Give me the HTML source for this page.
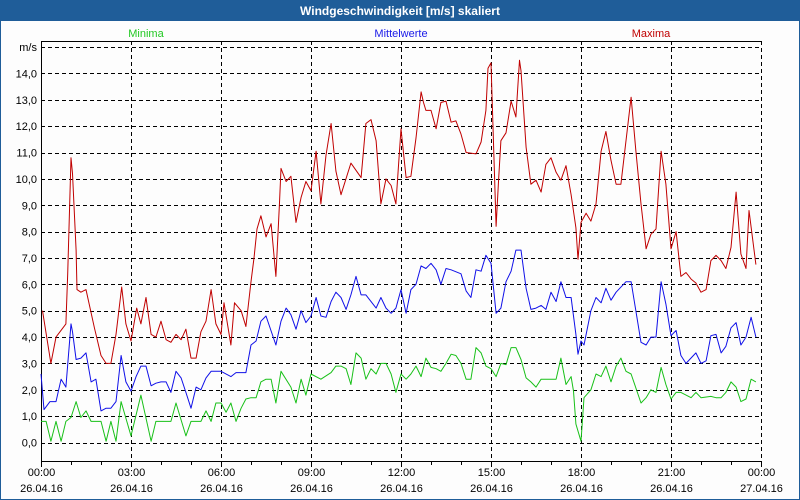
<!DOCTYPE html>
<html><head><meta charset="utf-8"><style>
html,body{margin:0;padding:0;background:#fff}
#frame{position:relative;width:798px;height:498px;border:1px solid #1f5d99;background:#fdfdfd;overflow:hidden}
#title{position:absolute;left:0;top:0;width:798px;height:20px;background:#1f5d99;color:#fff;font:bold 12px "Liberation Sans",sans-serif;text-align:center;line-height:20px}
svg{position:absolute;left:0;top:0}
text{font-family:"Liberation Sans",sans-serif;font-size:11px}
</style></head><body>
<div id="frame">
<div id="title">Windgeschwindigkeit [m/s] skaliert</div>
<svg id="chart" width="798" height="498"></svg>
</div>
<script>
const xTickLabels=["00:00","03:00","06:00","09:00","12:00","15:00","18:00","21:00","00:00"];
const xDateLabels=["26.04.16","26.04.16","26.04.16","26.04.16","26.04.16","26.04.16","26.04.16","26.04.16","27.04.16"];
const yTicks=[0,1,2,3,4,5,6,7,8,9,10,11,12,13,14];
const seriesNames=["Minima","Mittelwerte","Maxima"];
const maxHours=[0.05,0.33,0.5,0.83,0.89,1.0,1.05,1.17,1.2,1.33,1.5,1.78,2.0,2.17,2.33,2.5,2.69,2.83,3.0,3.19,3.33,3.5,3.67,3.83,4.0,4.17,4.33,4.5,4.67,4.83,5.0,5.17,5.33,5.5,5.67,5.83,6.0,6.1,6.2,6.33,6.45,6.67,6.83,7.0,7.1,7.2,7.33,7.5,7.67,7.83,7.95,8.0,8.17,8.33,8.5,8.67,8.83,9.0,9.17,9.33,9.5,9.67,9.83,10.0,10.33,10.67,10.83,11.0,11.17,11.33,11.5,11.67,11.83,12.0,12.1,12.17,12.33,12.5,12.67,12.75,12.83,13.0,13.17,13.33,13.5,13.67,13.83,14.0,14.17,14.5,14.67,14.83,14.9,15.0,15.17,15.25,15.33,15.5,15.67,15.83,15.95,16.0,16.17,16.33,16.5,16.67,16.83,17.0,17.17,17.33,17.5,17.67,17.83,17.9,18.0,18.17,18.33,18.5,18.67,18.83,19.0,19.17,19.33,19.5,19.67,19.83,20.0,20.17,20.33,20.5,20.67,20.83,21.0,21.17,21.33,21.5,21.67,21.83,22.0,22.17,22.33,22.5,22.67,22.83,23.0,23.17,23.33,23.5,23.6,23.83];
const maxValues=[5.0,3.0,4.0,4.5,6.4,10.8,10.2,7.3,5.8,5.7,5.8,4.35,3.3,3.0,3.0,4.1,5.9,4.5,3.85,5.1,4.5,5.5,4.1,4.0,4.6,3.9,3.8,4.1,3.9,4.3,3.2,3.2,4.2,4.6,5.8,4.5,4.1,5.3,4.6,3.7,5.3,5.0,4.4,6.1,7.0,8.1,8.6,7.8,8.3,6.3,9.1,10.4,9.9,10.1,8.35,9.3,9.9,9.55,11.05,9.05,10.9,12.1,10.3,9.4,10.6,10.05,12.1,12.25,11.45,9.05,10.0,9.75,9.05,11.9,10.8,10.05,10.1,11.55,13.3,12.9,12.6,12.6,11.9,12.9,12.95,12.15,12.2,11.7,11.0,10.95,11.4,12.6,14.2,14.4,8.2,9.9,11.45,11.75,12.95,12.35,14.5,14.1,11.2,9.8,9.95,9.5,10.55,10.8,10.25,9.95,10.5,9.4,8.15,6.95,8.35,8.7,8.4,9.05,11.05,11.8,10.7,9.8,9.8,11.45,13.1,11.05,9.05,7.35,7.9,8.1,11.05,9.8,7.35,8.0,6.3,6.45,6.2,6.05,5.7,5.8,6.9,7.1,6.9,6.6,7.4,9.5,7.15,6.6,8.8,6.75];
const meanHours=[0,0.1,0.3,0.5,0.67,0.83,0.89,1.0,1.05,1.17,1.33,1.5,1.67,1.83,2.0,2.17,2.33,2.5,2.67,2.83,3.0,3.17,3.33,3.5,3.67,3.83,4.0,4.17,4.33,4.5,4.67,4.83,5.0,5.17,5.33,5.5,5.67,6.0,6.33,6.5,6.83,7.0,7.17,7.33,7.5,7.83,8.0,8.17,8.33,8.5,8.67,8.83,9.0,9.17,9.33,9.5,9.67,9.83,10.0,10.17,10.33,10.5,10.67,10.83,11.17,11.33,11.5,11.67,11.83,12.0,12.17,12.33,12.5,12.67,12.83,13.0,13.17,13.33,13.5,13.67,14.0,14.17,14.33,14.5,14.67,14.83,15.0,15.17,15.33,15.5,15.67,15.83,16.0,16.17,16.33,16.5,16.67,16.83,17.0,17.17,17.33,17.5,17.67,17.83,17.9,18.0,18.1,18.33,18.5,18.67,18.83,19.0,19.17,19.5,19.67,20.0,20.17,20.33,20.5,20.67,20.83,21.0,21.17,21.33,21.5,21.83,22.0,22.17,22.33,22.5,22.67,22.83,23.0,23.17,23.33,23.5,23.67,23.83];
const meanValues=[2.6,1.25,1.55,1.55,2.4,2.1,2.95,4.5,4.2,3.15,3.2,3.4,2.3,2.4,1.2,1.3,1.3,1.55,3.3,2.3,1.95,2.5,2.9,2.9,2.15,2.25,2.3,2.3,1.9,2.7,2.45,1.9,1.3,2.1,2.0,2.45,2.7,2.7,2.5,2.65,2.65,3.7,3.85,4.6,4.8,3.7,4.6,5.1,4.85,4.3,5.0,4.55,4.8,5.5,4.8,4.75,5.35,5.7,5.5,5.05,5.6,6.3,5.6,5.6,5.1,5.5,5.1,4.9,5.1,5.8,4.9,5.8,6.0,6.7,6.6,6.8,6.55,6.0,6.6,6.55,6.4,5.75,5.5,6.55,6.5,7.1,6.8,4.9,5.1,6.1,6.5,7.3,7.3,5.85,5.05,5.1,5.2,5.05,5.7,5.35,6.1,5.5,5.5,4.1,3.35,3.85,3.7,5.0,5.5,5.3,5.85,5.4,5.7,6.1,6.1,3.8,3.7,4.0,4.0,6.1,5.25,4.05,4.25,3.3,3.0,3.4,3.0,3.1,4.05,4.1,3.4,3.65,4.35,4.55,3.7,4.0,4.75,4.0];
const minHours=[0,0.17,0.33,0.5,0.67,0.83,1.0,1.17,1.33,1.5,1.67,2.0,2.17,2.33,2.5,2.67,3.0,3.33,3.67,3.83,4.33,4.5,4.83,5.0,5.33,5.5,5.67,5.83,6.0,6.17,6.33,6.5,6.67,6.83,7.0,7.17,7.33,7.5,7.67,7.83,8.0,8.33,8.5,8.67,8.83,9.0,9.33,9.67,9.83,10.0,10.17,10.33,10.5,10.67,10.83,11.0,11.17,11.33,11.5,11.67,11.83,12.0,12.17,12.33,12.5,12.67,12.83,13.0,13.17,13.33,13.5,13.67,13.83,14.0,14.17,14.33,14.5,14.67,14.83,15.0,15.17,15.33,15.5,15.67,15.83,16.0,16.17,16.33,16.5,16.67,17.0,17.17,17.33,17.5,17.67,17.75,17.83,18.0,18.1,18.33,18.5,18.67,18.83,19.0,19.17,19.33,19.5,19.67,20.0,20.17,20.33,20.5,20.67,20.83,21.0,21.17,21.33,21.67,21.83,22.0,22.33,22.5,22.67,22.83,23.0,23.17,23.33,23.5,23.67,23.83];
const minValues=[0.8,0.8,0.05,0.8,0.05,0.8,0.95,1.55,0.95,1.2,0.8,0.8,0.05,0.8,0.05,1.55,0.25,1.8,0.05,0.8,0.8,1.5,0.25,0.8,0.8,1.2,0.8,1.5,1.5,1.15,1.5,0.8,1.3,1.65,1.7,1.7,2.3,2.4,2.4,1.5,2.7,2.1,1.5,2.4,1.8,2.6,2.4,2.65,2.9,2.9,2.8,2.2,3.4,3.2,2.4,2.8,2.6,3.0,3.0,2.6,1.9,2.6,2.4,2.6,2.9,2.5,3.2,2.85,2.8,2.7,3.0,3.35,3.3,3.0,2.4,2.4,3.6,3.4,2.9,2.8,2.5,3.0,2.95,3.6,3.6,3.15,2.45,2.3,2.1,2.4,2.4,2.4,3.2,2.2,2.5,1.95,0.7,0.05,1.7,2.0,2.6,2.5,2.9,2.3,2.9,3.2,2.7,2.6,1.5,1.7,2.0,1.9,2.85,2.2,1.65,1.9,1.9,1.7,1.9,1.7,1.75,1.7,1.7,1.9,2.3,2.1,1.55,1.65,2.4,2.3];

const svgEl=document.getElementById('chart');
const NS='http://www.w3.org/2000/svg';
const X0=40,X1=760,YT=40,YB=460;
function xs(h){return X0+(h/24)*(X1-X0);}
function ys(v){return 441.5-v*26.36;}
function mk(tag,attrs){const e=document.createElementNS(NS,tag);for(const k in attrs)e.setAttribute(k,attrs[k]);svgEl.appendChild(e);return e;}

for(let i=0;i<=15;i++){
  const y=Math.round(ys(i))+0.5;
  const l=mk('line',{x1:X0,x2:X1,y1:y,y2:y,stroke:'#000','stroke-dasharray':'4,3','stroke-width':1});
  
  
}
yTicks.forEach(v=>{
  const t=mk('text',{x:36,y:ys(v)+4,'text-anchor':'end',fill:'#000'});
  t.textContent=v.toFixed(1).replace('.',',');
  
  
});
const unitLabel=mk('text',{x:36,y:ys(15)+4,'text-anchor':'end',fill:'#000'});
unitLabel.textContent='m/s';



xTickLabels.forEach((lab,i)=>{
  const x=Math.round(xs(i*3))+0.5;
  if(i>0){const g=mk('line',{x1:x,x2:x,y1:YT,y2:YB,stroke:'#000','stroke-dasharray':'4,3'});
    
    }
  const t=mk('text',{x:x,y:475,'text-anchor':'middle',fill:'#000'});t.textContent=lab;
  
  
  const d=mk('text',{x:x,y:491,'text-anchor':'middle',fill:'#000'});d.textContent=xDateLabels[i];
  
  
});
for(let h=0;h<=24;h++){
  const x=Math.round(xs(h))+0.5;
  const tk=mk('line',{x1:x,x2:x,y1:YB,y2:YB+(h%3===0?6:4),stroke:'#000'});
  
  
}
const axesPath=mk('path',{d:`M${X0+0.5},${YT} V${YB+0.5} H${X1}`,stroke:'#000',fill:'none'});


const topBorder=mk('line',{x1:X0,x2:X1,y1:YT+0.5,y2:YT+0.5,stroke:'#000'});



function drawLine(hours,vals,color,name){
  const n=Math.min(hours.length,vals.length);
  let d='';
  for(let i=0;i<n;i++){d+=(i?'L':'M')+xs(hours[i]).toFixed(1)+','+ys(vals[i]).toFixed(1)+' ';}
  const p=mk('path',{d:d,stroke:color,fill:'none','stroke-width':1,'stroke-linejoin':'round'});
  
  
}
drawLine(minHours,minValues,'#18c018','series-minima');
drawLine(meanHours,meanValues,'#1010e8','series-mittelwerte');
drawLine(maxHours,maxValues,'#c00000','series-maxima');

const legColors=['#22c822','#1a1ae8','#c00000'];const legX=[145,400,650];
seriesNames.forEach((n,i)=>{
  const t=mk('text',{x:legX[i],y:36,'text-anchor':'middle',fill:legColors[i]});t.textContent=n;
  
  
});
</script>
</body></html>
